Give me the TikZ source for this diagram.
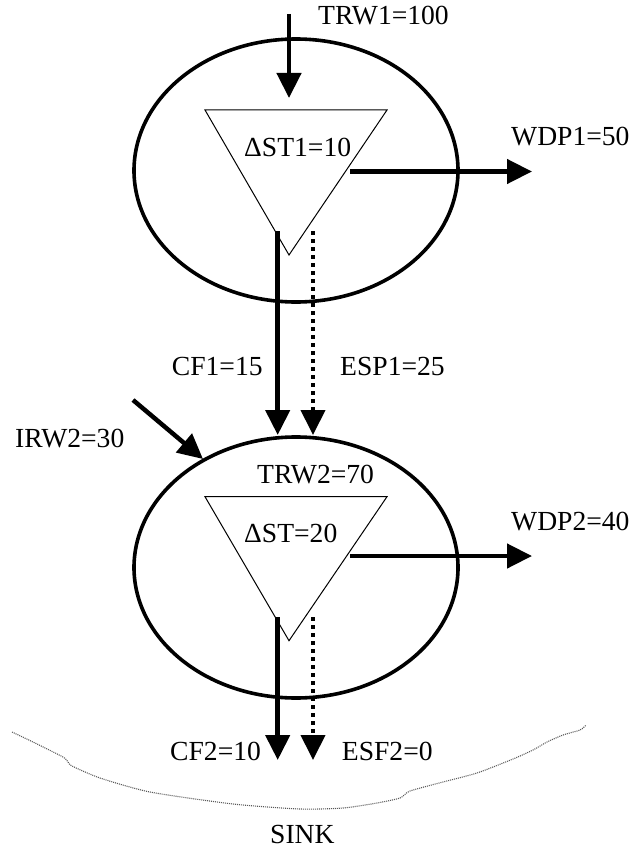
\documentclass[tikz,border=0pt]{standalone}
\usepackage{fontspec}
\setmainfont{Liberation Serif}
\usetikzlibrary{arrows.meta,shapes.geometric}
\begin{document}
\begin{tikzpicture}[x=1pt,y=-1pt,
  reservoir/.style={draw,ellipse,line width=3.6pt,inner sep=0pt},
  storebox/.style={draw,line width=1pt,line join=miter},
  flow/.style={line width=4.5pt,-{Triangle[length=25pt,width=24pt]}},
  dotflow/.style={line width=4pt,dash pattern=on 4pt off 4pt,-{Triangle[length=25pt,width=24pt]}},
  lbl/.style={anchor=base west,inner sep=0pt,font=\fontsize{27.6}{33}\selectfont},
  sinkline/.style={line width=1.1pt,black!65,dash pattern=on 1pt off 1pt}]
\useasboundingbox (0,0) rectangle (630,848);
% reservoirs
\node[reservoir,minimum width=324pt,minimum height=263pt] (res1) at (296,170.5) {};
\node[reservoir,minimum width=324pt,minimum height=261pt] (res2) at (296,567.5) {};
% storage triangles
\coordinate (t1a) at (205,110); \coordinate (t1b) at (387,110); \coordinate (t1c) at (289,255);
\draw[storebox] (t1a) -- (t1b) -- (t1c) -- cycle;
\coordinate (t2a) at (205,496.7); \coordinate (t2b) at (387,496.7); \coordinate (t2c) at (289,640.7);
\draw[storebox] (t2a) -- (t2b) -- (t2c) -- cycle;
% labels
\node[lbl] (trw1) at (318,25) {TRW1=100};
\node[lbl] (dst1) at (244,157) {ΔST1=10};
\node[lbl] (wdp1) at (511,145) {WDP1=50};
\node[lbl] (cf1) at (171.7,375) {CF1=15};
\node[lbl] (esp1) at (340,375) {ESP1=25};
\node[lbl] (irw2) at (15,447) {IRW2=30};
\node[lbl] (trw2) at (257,483) {TRW2=70};
\node[lbl] (dst2) at (244,542.7) {ΔST=20};
\node[lbl] (wdp2) at (511,530) {WDP2=40};
\node[lbl] (cf2) at (170,760) {CF2=10};
\node[lbl] (esf2) at (341.7,760) {ESF2=0};
\node[lbl] (sink) at (270,843) {SINK};
% connector ends
\coordinate (in1s) at (289,14); \coordinate (in1e) at (289,98);
\coordinate (w1s) at (350,171.5); \coordinate (w1e) at (532,171.5);
\coordinate (c1s) at (277.7,231); \coordinate (c1e) at (277.7,435);
\coordinate (e1s) at (313,231); \coordinate (e1e) at (313,435);
\coordinate (irs) at (133,400); \coordinate (ire) at (203,459);
\coordinate (w2s) at (350,556); \coordinate (w2e) at (532,556);
\coordinate (c2s) at (277.7,617); \coordinate (c2e) at (277.7,760);
\coordinate (e2s) at (313,617); \coordinate (e2e) at (313,760);
% flows
\draw[flow] (in1s) -- (in1e);
\draw[flow] (w1s) -- (w1e);
\draw[flow] (c1s) -- (c1e);
\draw[dotflow] (e1s) -- (e1e);
\draw[flow] (irs) -- (ire);
\draw[flow] (w2s) -- (w2e);
\draw[flow] (c2s) -- (c2e);
\draw[dotflow] (e2s) -- (e2e);
% sink boundary
\draw[sinkline] plot[smooth,tension=0.4] coordinates {(12,732) (33,742) (63,757) (68,762) (72,766) (100,778) (150,792) (233,804) (300,809) (343,808) (377,803) (400,798) (410,791) (443,782) (477,773) (513,759) (533,750) (547,742) (563,735) (580,730) (586,725)};
\end{tikzpicture}
\end{document}
